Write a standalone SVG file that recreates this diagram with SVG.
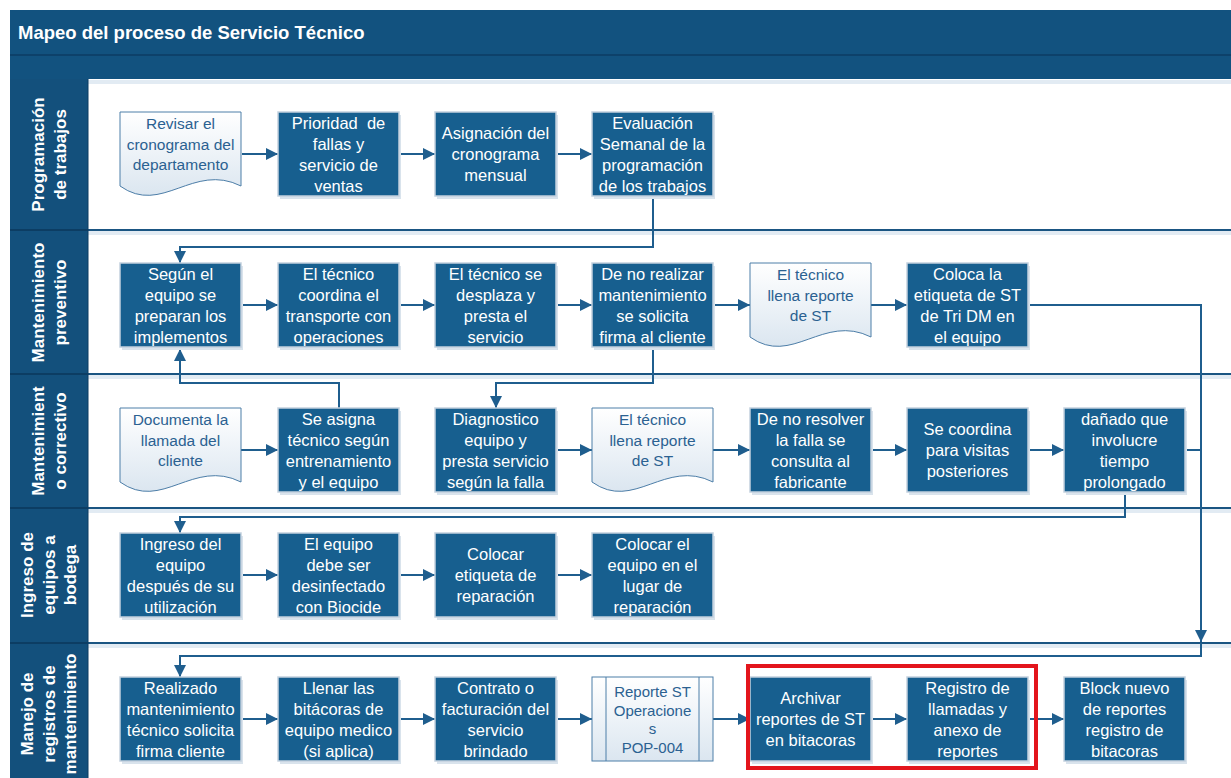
<svg xmlns="http://www.w3.org/2000/svg" width="1231" height="778" viewBox="0 0 1231 778">
  <style>
    .box { fill: #175f8f; stroke: #c3d1de; stroke-width: 1.5; }
    .shadow { fill: #d9e3ec; }
    .doc { fill: url(#docGrad); stroke: #4d7ea8; stroke-width: 1; }
    .t { font-family: "Liberation Sans", Arial, sans-serif; font-size: 16.5px; fill: #ffffff; text-anchor: middle; }
    .td { font-family: "Liberation Sans", Arial, sans-serif; font-size: 15.5px; fill: #2b6191; text-anchor: middle; }
    .lt { font-family: "Liberation Sans", Arial, sans-serif; font-size: 17px; font-weight: bold; fill: #ffffff; text-anchor: middle; }
    .conn { fill: none; stroke: #1f5e8e; stroke-width: 2; }
    .arr { marker-end: url(#arrow); }
    .divider { stroke: #1a5582; stroke-width: 2; }
    .hdiv { stroke: #0c3d63; stroke-width: 2; }
    .haze { fill: #e2ebf3; }
  </style>
  <defs>
    <linearGradient id="docGrad" x1="0" y1="0" x2="0" y2="1">
      <stop offset="0" stop-color="#ffffff"/>
      <stop offset="1" stop-color="#dbe6f0"/>
    </linearGradient>
    <marker id="arrow" markerUnits="userSpaceOnUse" markerWidth="12" markerHeight="12" refX="12" refY="6" orient="auto">
      <path d="M0,0 L12,6 L0,12 Z" fill="#1f5e8e"/>
    </marker>
  </defs>

  <rect x="0" y="0" width="1231" height="778" fill="#ffffff"/>

  <!-- pool frame, title and lanes -->
  <g id="lanes">
    <rect x="10" y="10" width="1221" height="45" fill="#12527f"/>
    <rect x="10" y="55" width="1221" height="24" fill="#12527f"/>
    <line x1="10" y1="55" x2="1231" y2="55" stroke="#0c3d63" stroke-width="1.5"/>
    <text x="18" y="39" font-family="Liberation Sans, Arial, sans-serif" font-size="18.5" font-weight="bold" fill="#ffffff">Mapeo del proceso de Servicio Técnico</text>

    <rect x="10" y="79" width="78" height="699" fill="#13507c"/>
    <rect x="88" y="79" width="1143" height="699" fill="#ffffff"/>
    <rect class="haze" x="88" y="80" width="1143" height="4"/>

    <rect class="haze" x="88" y="231" width="1143" height="4"/>
    <rect class="haze" x="88" y="375" width="1143" height="4"/>
    <rect class="haze" x="88" y="509" width="1143" height="4"/>
    <rect class="haze" x="88" y="644" width="1143" height="4"/>

    <line class="divider" x1="88" y1="230" x2="1231" y2="230"/>
    <line class="divider" x1="88" y1="374" x2="1231" y2="374"/>
    <line class="divider" x1="88" y1="508" x2="1231" y2="508"/>
    <line class="divider" x1="88" y1="643" x2="1231" y2="643"/>

    <line class="hdiv" x1="10" y1="230" x2="88" y2="230"/>
    <line class="hdiv" x1="10" y1="374" x2="88" y2="374"/>
    <line class="hdiv" x1="10" y1="508" x2="88" y2="508"/>
    <line class="hdiv" x1="10" y1="643" x2="88" y2="643"/>
    <line x1="88" y1="79" x2="88" y2="778" stroke="#0c3d63" stroke-width="1"/>

    <text class="lt" transform="translate(48.5,154.5) rotate(-90)"><tspan x="0" y="-5">Programación</tspan><tspan x="0" y="17">de trabajos</tspan></text>
    <text class="lt" transform="translate(48.5,302.5) rotate(-90)"><tspan x="0" y="-5">Mantenimiento</tspan><tspan x="0" y="17">preventivo</tspan></text>
    <text class="lt" transform="translate(48.5,441) rotate(-90)"><tspan x="0" y="-5">Mantenimient</tspan><tspan x="0" y="17">o correctivo</tspan></text>
    <text class="lt" transform="translate(48.5,575) rotate(-90)"><tspan x="0" y="-15.5">Ingreso de</tspan><tspan x="0" y="6">equipos a</tspan><tspan x="0" y="27.5">bodega</tspan></text>
    <text class="lt" transform="translate(48.5,714) rotate(-90)"><tspan x="0" y="-15.5">Manejo de</tspan><tspan x="0" y="6">registros de</tspan><tspan x="0" y="27.5">mantenimiento</tspan></text>
  </g>

  <!-- connectors -->
  <g id="connectors">
    <path class="conn arr" d="M242,154 H278"/>
    <path class="conn arr" d="M399,154 H435"/>
    <path class="conn arr" d="M556,154 H592"/>
    <path class="conn arr" d="M653,196 V247 H180 V263"/>

    <path class="conn arr" d="M241,305 H278"/>
    <path class="conn arr" d="M399,305 H435"/>
    <path class="conn arr" d="M556,305 H592"/>
    <path class="conn arr" d="M713,305 H750"/>
    <path class="conn arr" d="M871,305 H907"/>
    <path class="conn arr" d="M1028,305 H1201 V642"/>

    <path class="conn arr" d="M339,408 V383 H180 V349"/>
    <path class="conn arr" d="M653,347 V383 H496 V408"/>

    <path class="conn arr" d="M241,450 H278"/>
    <path class="conn arr" d="M556,450 H592"/>
    <path class="conn arr" d="M713,450 H750"/>
    <path class="conn arr" d="M871,450 H907"/>
    <path class="conn arr" d="M1028,450 H1064"/>
    <path class="conn" d="M1185,450 H1201"/>
    <path class="conn arr" d="M1125,492 V517 H180 V533"/>

    <path class="conn arr" d="M241,575 H278"/>
    <path class="conn arr" d="M399,575 H435"/>
    <path class="conn arr" d="M556,575 H592"/>

    <path class="conn arr" d="M1201,643 V656 H180 V677"/>
    <path class="conn arr" d="M241,719 H278"/>
    <path class="conn arr" d="M399,719 H435"/>
    <path class="conn arr" d="M556,719 H592"/>
    <path class="conn arr" d="M713,719 H750"/>
    <path class="conn arr" d="M871,719 H907"/>
    <path class="conn arr" d="M1028,719 H1064"/>
  </g>

  <!-- Programación de trabajos -->
  <g id="revisar-cronograma">
    <path class="doc" d="M120,112 H241 V186 C193,162 162,216 120,186 Z"/>
    <text class="td"><tspan x="180.5" y="129">Revisar el</tspan><tspan x="180.5" y="149.5">cronograma del</tspan><tspan x="180.5" y="170">departamento</tspan></text>
  </g>
  <g id="prioridad-fallas">
    <rect class="shadow" x="280" y="115" width="121" height="84"/>
    <rect class="box" x="278" y="112" width="121" height="84"/>
    <text class="t" xml:space="preserve"><tspan x="338.5" y="128.5">Prioridad  de</tspan><tspan x="338.5" y="149.5">fallas y</tspan><tspan x="338.5" y="170.5">servicio de</tspan><tspan x="338.5" y="191.5">ventas</tspan></text>
  </g>
  <g id="asignacion-cronograma">
    <rect class="shadow" x="437" y="115" width="121" height="84"/>
    <rect class="box" x="435" y="112" width="121" height="84"/>
    <text class="t"><tspan x="495.5" y="139">Asignación del</tspan><tspan x="495.5" y="160">cronograma</tspan><tspan x="495.5" y="181">mensual</tspan></text>
  </g>
  <g id="evaluacion-semanal">
    <rect class="shadow" x="594" y="115" width="121" height="84"/>
    <rect class="box" x="592" y="112" width="121" height="84"/>
    <text class="t"><tspan x="652.5" y="128.5">Evaluación</tspan><tspan x="652.5" y="149.5">Semanal de la</tspan><tspan x="652.5" y="170.5">programación</tspan><tspan x="652.5" y="191.5">de los trabajos</tspan></text>
  </g>

  <!-- Mantenimiento preventivo -->
  <g id="preparan-implementos">
    <rect class="shadow" x="122" y="266" width="121" height="84"/>
    <rect class="box" x="120" y="263" width="121" height="84"/>
    <text class="t"><tspan x="180.5" y="279.5">Según el</tspan><tspan x="180.5" y="300.5">equipo se</tspan><tspan x="180.5" y="321.5">preparan los</tspan><tspan x="180.5" y="342.5">implementos</tspan></text>
  </g>
  <g id="coordina-transporte">
    <rect class="shadow" x="280" y="266" width="121" height="84"/>
    <rect class="box" x="278" y="263" width="121" height="84"/>
    <text class="t"><tspan x="338.5" y="279.5">El técnico</tspan><tspan x="338.5" y="300.5">coordina el</tspan><tspan x="338.5" y="321.5">transporte con</tspan><tspan x="338.5" y="342.5">operaciones</tspan></text>
  </g>
  <g id="desplaza-servicio">
    <rect class="shadow" x="437" y="266" width="121" height="84"/>
    <rect class="box" x="435" y="263" width="121" height="84"/>
    <text class="t"><tspan x="495.5" y="279.5">El técnico se</tspan><tspan x="495.5" y="300.5">desplaza y</tspan><tspan x="495.5" y="321.5">presta el</tspan><tspan x="495.5" y="342.5">servicio</tspan></text>
  </g>
  <g id="solicita-firma">
    <rect class="shadow" x="594" y="266" width="121" height="84"/>
    <rect class="box" x="592" y="263" width="121" height="84"/>
    <text class="t"><tspan x="652.5" y="279.5">De no realizar</tspan><tspan x="652.5" y="300.5">mantenimiento</tspan><tspan x="652.5" y="321.5">se solicita</tspan><tspan x="652.5" y="342.5">firma al cliente</tspan></text>
  </g>
  <g id="reporte-st-preventivo">
    <path class="doc" d="M750,263 H871 V337 C823,313 792,367 750,337 Z"/>
    <text class="td"><tspan x="810.5" y="280">El técnico</tspan><tspan x="810.5" y="300.5">llena reporte</tspan><tspan x="810.5" y="321">de ST</tspan></text>
  </g>
  <g id="etiqueta-st">
    <rect class="shadow" x="909" y="266" width="121" height="84"/>
    <rect class="box" x="907" y="263" width="121" height="84"/>
    <text class="t"><tspan x="967.5" y="279.5">Coloca la</tspan><tspan x="967.5" y="300.5">etiqueta de ST</tspan><tspan x="967.5" y="321.5">de Tri DM en</tspan><tspan x="967.5" y="342.5">el equipo</tspan></text>
  </g>

  <!-- Mantenimiento correctivo -->
  <g id="documenta-llamada">
    <path class="doc" d="M120,408 H241 V482 C193,458 162,512 120,482 Z"/>
    <text class="td"><tspan x="180.5" y="425">Documenta la</tspan><tspan x="180.5" y="445.5">llamada del</tspan><tspan x="180.5" y="466">cliente</tspan></text>
  </g>
  <g id="asigna-tecnico">
    <rect class="shadow" x="280" y="411" width="121" height="84"/>
    <rect class="box" x="278" y="408" width="121" height="84"/>
    <text class="t"><tspan x="338.5" y="424.5">Se asigna</tspan><tspan x="338.5" y="445.5">técnico según</tspan><tspan x="338.5" y="466.5">entrenamiento</tspan><tspan x="338.5" y="487.5">y el equipo</tspan></text>
  </g>
  <g id="diagnostico">
    <rect class="shadow" x="437" y="411" width="121" height="84"/>
    <rect class="box" x="435" y="408" width="121" height="84"/>
    <text class="t"><tspan x="495.5" y="424.5">Diagnostico</tspan><tspan x="495.5" y="445.5">equipo y</tspan><tspan x="495.5" y="466.5">presta servicio</tspan><tspan x="495.5" y="487.5">según la falla</tspan></text>
  </g>
  <g id="reporte-st-correctivo">
    <path class="doc" d="M592,408 H713 V482 C665,458 634,512 592,482 Z"/>
    <text class="td"><tspan x="652.5" y="425">El técnico</tspan><tspan x="652.5" y="445.5">llena reporte</tspan><tspan x="652.5" y="466">de ST</tspan></text>
  </g>
  <g id="consulta-fabricante">
    <rect class="shadow" x="752" y="411" width="121" height="84"/>
    <rect class="box" x="750" y="408" width="121" height="84"/>
    <text class="t"><tspan x="810.5" y="424.5">De no resolver</tspan><tspan x="810.5" y="445.5">la falla se</tspan><tspan x="810.5" y="466.5">consulta al</tspan><tspan x="810.5" y="487.5">fabricante</tspan></text>
  </g>
  <g id="visitas-posteriores">
    <rect class="shadow" x="909" y="411" width="121" height="84"/>
    <rect class="box" x="907" y="408" width="121" height="84"/>
    <text class="t"><tspan x="967.5" y="435">Se coordina</tspan><tspan x="967.5" y="456">para visitas</tspan><tspan x="967.5" y="477">posteriores</tspan></text>
  </g>
  <g id="tiempo-prolongado">
    <rect class="shadow" x="1066" y="411" width="121" height="84"/>
    <rect class="box" x="1064" y="408" width="121" height="84"/>
    <text class="t"><tspan x="1124.5" y="424.5">dañado que</tspan><tspan x="1124.5" y="445.5">involucre</tspan><tspan x="1124.5" y="466.5">tiempo</tspan><tspan x="1124.5" y="487.5">prolongado</tspan></text>
  </g>

  <!-- Ingreso de equipos a bodega -->
  <g id="ingreso-equipo">
    <rect class="shadow" x="122" y="536" width="121" height="84"/>
    <rect class="box" x="120" y="533" width="121" height="84"/>
    <text class="t"><tspan x="180.5" y="549.5">Ingreso del</tspan><tspan x="180.5" y="570.5">equipo</tspan><tspan x="180.5" y="591.5">después de su</tspan><tspan x="180.5" y="612.5">utilización</tspan></text>
  </g>
  <g id="desinfectado">
    <rect class="shadow" x="280" y="536" width="121" height="84"/>
    <rect class="box" x="278" y="533" width="121" height="84"/>
    <text class="t"><tspan x="338.5" y="549.5">El equipo</tspan><tspan x="338.5" y="570.5">debe ser</tspan><tspan x="338.5" y="591.5">desinfectado</tspan><tspan x="338.5" y="612.5">con Biocide</tspan></text>
  </g>
  <g id="etiqueta-reparacion">
    <rect class="shadow" x="437" y="536" width="121" height="84"/>
    <rect class="box" x="435" y="533" width="121" height="84"/>
    <text class="t"><tspan x="495.5" y="560">Colocar</tspan><tspan x="495.5" y="581">etiqueta de</tspan><tspan x="495.5" y="602">reparación</tspan></text>
  </g>
  <g id="lugar-reparacion">
    <rect class="shadow" x="594" y="536" width="121" height="84"/>
    <rect class="box" x="592" y="533" width="121" height="84"/>
    <text class="t"><tspan x="652.5" y="549.5">Colocar el</tspan><tspan x="652.5" y="570.5">equipo en el</tspan><tspan x="652.5" y="591.5">lugar de</tspan><tspan x="652.5" y="612.5">reparación</tspan></text>
  </g>

  <!-- Manejo de registros de mantenimiento -->
  <g id="firma-cliente">
    <rect class="shadow" x="122" y="680" width="121" height="84"/>
    <rect class="box" x="120" y="677" width="121" height="84"/>
    <text class="t"><tspan x="180.5" y="693.5">Realizado</tspan><tspan x="180.5" y="714.5">mantenimiento</tspan><tspan x="180.5" y="735.5">técnico solicita</tspan><tspan x="180.5" y="756.5">firma cliente</tspan></text>
  </g>
  <g id="bitacoras-equipo">
    <rect class="shadow" x="280" y="680" width="121" height="84"/>
    <rect class="box" x="278" y="677" width="121" height="84"/>
    <text class="t"><tspan x="338.5" y="693.5">Llenar las</tspan><tspan x="338.5" y="714.5">bitácoras de</tspan><tspan x="338.5" y="735.5">equipo medico</tspan><tspan x="338.5" y="756.5">(si aplica)</tspan></text>
  </g>
  <g id="contrato-facturacion">
    <rect class="shadow" x="437" y="680" width="121" height="84"/>
    <rect class="box" x="435" y="677" width="121" height="84"/>
    <text class="t"><tspan x="495.5" y="693.5">Contrato o</tspan><tspan x="495.5" y="714.5">facturación del</tspan><tspan x="495.5" y="735.5">servicio</tspan><tspan x="495.5" y="756.5">brindado</tspan></text>
  </g>
  <g id="pop-004">
    <rect class="doc" x="592" y="677" width="121" height="84"/>
    <line x1="606" y1="677" x2="606" y2="761" stroke="#4d7ea8" stroke-width="1"/>
    <line x1="699" y1="677" x2="699" y2="761" stroke="#4d7ea8" stroke-width="1"/>
    <text class="td" style="font-size:15px"><tspan x="652.5" y="697.3">Reporte ST</tspan><tspan x="652.5" y="715.8">Operacione</tspan><tspan x="652.5" y="734.3">s</tspan><tspan x="652.5" y="752.8">POP-004</tspan></text>
  </g>
  <g id="archivar-reportes">
    <rect class="shadow" x="752" y="680" width="121" height="84"/>
    <rect class="box" x="750" y="677" width="121" height="84"/>
    <text class="t"><tspan x="810.5" y="704">Archivar</tspan><tspan x="810.5" y="725">reportes de ST</tspan><tspan x="810.5" y="746">en bitacoras</tspan></text>
  </g>
  <g id="registro-llamadas">
    <rect class="shadow" x="909" y="680" width="121" height="84"/>
    <rect class="box" x="907" y="677" width="121" height="84"/>
    <text class="t"><tspan x="967.5" y="693.5">Registro de</tspan><tspan x="967.5" y="714.5">llamadas y</tspan><tspan x="967.5" y="735.5">anexo de</tspan><tspan x="967.5" y="756.5">reportes</tspan></text>
  </g>
  <g id="block-nuevo">
    <rect class="shadow" x="1066" y="680" width="121" height="84"/>
    <rect class="box" x="1064" y="677" width="121" height="84"/>
    <text class="t"><tspan x="1124.5" y="693.5">Block nuevo</tspan><tspan x="1124.5" y="714.5">de reportes</tspan><tspan x="1124.5" y="735.5">registro de</tspan><tspan x="1124.5" y="756.5">bitacoras</tspan></text>
  </g>

  <!-- highlight around the archiving steps -->
  <g id="highlight">
    <rect x="748" y="666" width="288" height="102" fill="none" stroke="#e3151c" stroke-width="4"/>
  </g>
</svg>
